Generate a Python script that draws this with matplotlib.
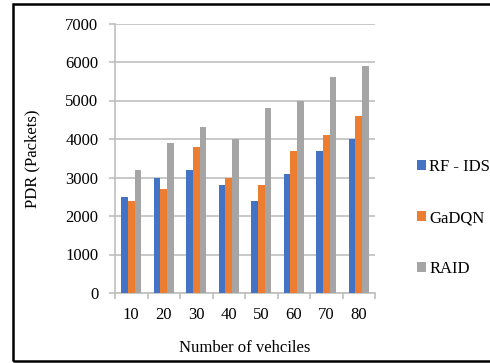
import numpy as np
import matplotlib
matplotlib.use("Agg")
import matplotlib.pyplot as plt
from matplotlib.patches import Rectangle

vehicles = ["10", "20", "30", "40", "50", "60", "70", "80"]
rf_ids = [2500, 3000, 3200, 2800, 2400, 3100, 3700, 4000]
gadqn = [2400, 2700, 3800, 3000, 2800, 3700, 4100, 4600]
raid = [3200, 3900, 4300, 4000, 4800, 5000, 5600, 5900]

series = [("RF - IDS", rf_ids, "#4472C4"),
          ("GaDQN", gadqn, "#ED7D31"),
          ("RAID", raid, "#A5A5A5")]

plt.rcParams["font.family"] = ["Liberation Serif", "DejaVu Serif"]
grey = "#BFBFBF"

fig = plt.figure(figsize=(4.9, 3.63), dpi=100)
ax = fig.add_axes([115 / 490, 1 - 293 / 363, 260 / 490, (293 - 23.5) / 363])

x = np.arange(len(vehicles))
w = 0.21
for i, (name, vals, col) in enumerate(series):
    ax.bar(x + (i - 1) * w, vals, width=w, color=col, label=name, zorder=3)

ax.set_xlim(-0.5, len(vehicles) - 0.5)
ax.set_ylim(0, 7000)
ax.set_yticks(range(0, 7001, 1000))
ax.grid(axis="y", color=grey, linewidth=1.2, zorder=0)
for s in ("top", "right"):
    ax.spines[s].set_visible(False)
for s in ("left", "bottom"):
    ax.spines[s].set_color(grey)
    ax.spines[s].set_linewidth(1.2)

ax.set_xticks(x)
ax.set_xticklabels(vehicles)
ax.set_xticks(np.arange(-0.5, len(vehicles)), minor=True)
ax.tick_params(axis="x", which="major", length=0, pad=10, labelsize=12)
ax.tick_params(axis="x", which="minor", length=4, color=grey, width=1.2)
ax.tick_params(axis="y", length=4, color=grey, width=1.2, pad=8, labelsize=12)

ax.set_xlabel("Number of vehciles", fontsize=12, labelpad=12)
ax.set_ylabel("PDR (Packets)", fontsize=12, labelpad=18)

ax.legend(loc="center left", bbox_to_anchor=(1.115, 0.278), frameon=False,
          fontsize=12, handlelength=0.55, handleheight=0.55, handletextpad=0.2,
          labelspacing=2.1, borderpad=0.2)

# outer frame
fig.patches.append(Rectangle((13 / 490, 2 / 363), 1.0, 357 / 363,
                             transform=fig.transFigure, fill=False,
                             edgecolor="black", linewidth=1.8))

fig.savefig("out.png", dpi=100)
